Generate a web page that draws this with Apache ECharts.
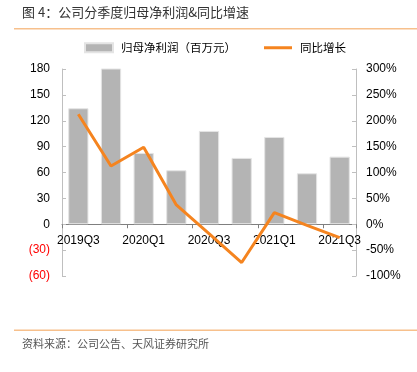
<!DOCTYPE html>
<html><head><meta charset="utf-8">
<script src="https://cdn.jsdelivr.net/npm/echarts@6/dist/echarts.min.js"></script>
<style>html,body{margin:0;padding:0;background:#fff}#c{width:417px;height:372px}</style>
</head><body><div id="c"></div>
<script>
const categories = ['2019Q3','2019Q4','2020Q1','2020Q2','2020Q3','2020Q4','2021Q1','2021Q2','2021Q3'];
const profit = [134.5, 181, 82.7, 62.6, 108.2, 76.9, 101.2, 59.1, 78.4];
const growth = [212.6, 112.7, 148.8, 37.3, -18, -74, 22.4, -2, -26];
const leftTicks = {min: -60, max: 180, interval: 30};
const rightTicks = {min: -100, max: 300, interval: 50};

const gridTop = 69, gridBottom = 96, H = 372;
const gridH = H - gridTop - gridBottom;
const zeroOffset = -(0 - leftTicks.min) / (leftTicks.max - leftTicks.min) * gridH;

const chart = echarts.init(document.getElementById('c'));
const latin = 'Liberation Sans, Arial, sans-serif';
const cjk = '"Noto Sans CJK SC", sans-serif';
chart.setOption({
  animation: false,
  backgroundColor: '#fff',
  graphic: [
    {type:'text', left: 22, top: 6, style:{text:'图 4：公司分季度归母净利润&同比增速', font:'13px "Noto Sans CJK SC"', fill:'#333'}},
    {type:'rect', shape:{x:14, y:28, width:403, height:1.5}, style:{fill:'#f7c08c'}},
    {type:'rect', shape:{x:14, y:329.5, width:403, height:1.5}, style:{fill:'#f7c08c'}},
    {type:'text', left: 22, top: 338, style:{text:'资料来源：公司公告、天风证券研究所', font:'11px "Noto Sans CJK SC"', fill:'#555'}}
  ],
  legend: {
    top: 42, left: 84, padding: 0,
    itemGap: 28, itemWidth: 28, itemHeight: 9,
    textStyle: {fontFamily: cjk, fontSize: 11.5, color: '#000', padding: [0, 0, 0, 3]},
    data: [{name:'归母净利润（百万元）', icon:'rect'}, {name:'同比增长', icon:'path://M0,0 L28,0 L28,3 L0,3 Z'}]
  },
  grid: {left: 62, right: 61, top: gridTop, bottom: gridBottom, containLabel: false},
  xAxis: {
    type: 'category', data: categories, boundaryGap: true,
    position: 'bottom', offset: zeroOffset,
    axisLine: {onZero: false, lineStyle: {color: '#7f7f7f', width: 1}},
    axisTick: {show: true, alignWithLabel: false, length: 4, lineStyle: {color: '#7f7f7f'}},
    axisLabel: {interval: 1, color: '#000', fontFamily: latin, fontSize: 12, margin: 10},
    splitLine: {show: false}
  },
  yAxis: [
    {
      type: 'value', min: leftTicks.min, max: leftTicks.max, interval: leftTicks.interval,
      axisLine: {show: true, lineStyle: {color: '#bfbfbf'}},
      axisTick: {show: true, inside: true, length: 4, lineStyle: {color: '#bfbfbf'}},
      splitLine: {show: false},
      axisLabel: {
        fontFamily: latin, fontSize: 12, margin: 12,
        formatter: v => v < 0 ? '(' + (-v) + ')' : String(v),
        color: v => (typeof v === 'string' ? parseFloat(v) : v) < 0 ? '#ff0000' : '#000'
      }
    },
    {
      type: 'value', min: rightTicks.min, max: rightTicks.max, interval: rightTicks.interval,
      position: 'right',
      axisLine: {show: true, lineStyle: {color: '#bfbfbf'}},
      axisTick: {show: true, inside: true, length: 4, lineStyle: {color: '#bfbfbf'}},
      splitLine: {show: false},
      axisLabel: {fontFamily: latin, fontSize: 12, color: '#000', margin: 10, formatter: v => v + '%'}
    }
  ],
  series: [
    {
      name: '归母净利润（百万元）', type: 'bar', yAxisIndex: 0, data: profit,
      barWidth: '62%',
      itemStyle: {color: '#b4b4b4', borderColor: '#e4e4e4', borderWidth: 1}
    },
    {
      name: '同比增长', type: 'line', yAxisIndex: 1, data: growth,
      symbol: 'none', lineStyle: {color: '#f5841f', width: 3},
      itemStyle: {color: '#f5841f'}
    }
  ]
});
</script></body></html>
